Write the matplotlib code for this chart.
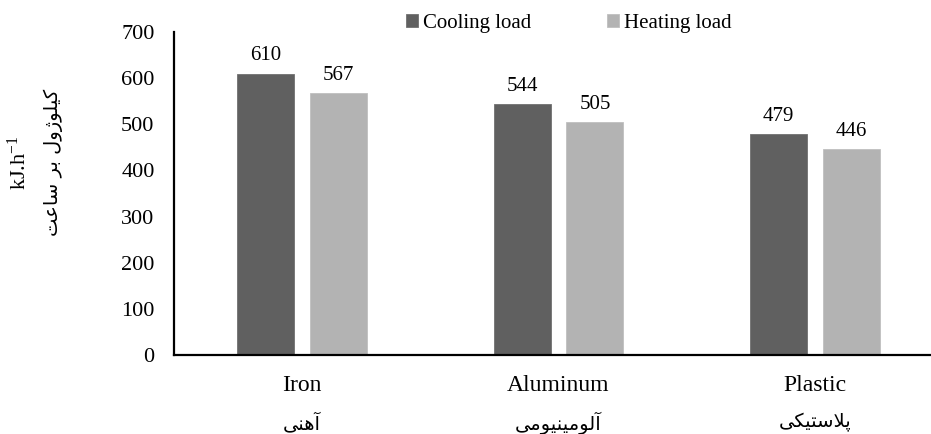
import matplotlib
matplotlib.use("Agg")
import matplotlib.pyplot as plt
import numpy as np

# data
materials_en = ["Iron", "Aluminum", "Plastic"]
materials_fa = ["آهنی", "آلومینیومی", "پلاستیکی"]
cooling = [610, 544, 479]
heating = [567, 505, 446]
yticks = [0, 100, 200, 300, 400, 500, 600, 700]
ylabel_en = "kJ.h$^{-1}$"
ylabel_fa = "کیلوژول بر ساعت"
series_names = ["Cooling load", "Heating load"]

# matplotlib has no Arabic shaping, so map letters to presentation forms
# (isolated, final, initial, medial); None = does not join to the next letter
FORMS = {
    "ا": ("\uFE8D", "\uFE8E", None, None),
    "آ": ("\uFE81", "\uFE82", None, None),
    "ب": ("\uFE8F", "\uFE90", "\uFE91", "\uFE92"),
    "پ": ("\uFB56", "\uFB57", "\uFB58", "\uFB59"),
    "ت": ("\uFE95", "\uFE96", "\uFE97", "\uFE98"),
    "س": ("\uFEB1", "\uFEB2", "\uFEB3", "\uFEB4"),
    "ع": ("\uFEC9", "\uFECA", "\uFECB", "\uFECC"),
    "ر": ("\uFEAD", "\uFEAE", None, None),
    "ژ": ("\uFB8A", "\uFB8B", None, None),
    "و": ("\uFEED", "\uFEEE", None, None),
    "ل": ("\uFEDD", "\uFEDE", "\uFEDF", "\uFEE0"),
    "م": ("\uFEE1", "\uFEE2", "\uFEE3", "\uFEE4"),
    "ن": ("\uFEE5", "\uFEE6", "\uFEE7", "\uFEE8"),
    "ه": ("\uFEE9", "\uFEEA", "\uFEEB", "\uFEEC"),
    "ی": ("\uFBFC", "\uFBFD", "\uFBFE", "\uFBFF"),
    "ک": ("\uFB8E", "\uFB8F", "\uFB90", "\uFB91"),
    "لا": ("\uFEFB", "\uFEFC", None, None),
}


def shape(text):
    # merge lam + alef into one unit
    units = []
    i = 0
    while i < len(text):
        if text[i] == "ل" and i + 1 < len(text) and text[i + 1] == "ا":
            units.append("لا")
            i += 2
        else:
            units.append(text[i])
            i += 1
    out = []
    for k, u in enumerate(units):
        if u not in FORMS:
            out.append(u)
            continue
        prev = units[k - 1] if k > 0 else None
        nxt = units[k + 1] if k + 1 < len(units) else None
        join_prev = prev in FORMS and FORMS[prev][2] is not None
        join_next = nxt in FORMS and FORMS[u][2] is not None
        iso, fin, ini, med = FORMS[u]
        if join_prev and join_next:
            out.append(med)
        elif join_prev:
            out.append(fin)
        elif join_next:
            out.append(ini)
        else:
            out.append(iso)
    return "".join(out)[::-1]


plt.rcParams["font.family"] = ["Liberation Serif", "DejaVu Sans"]
plt.rcParams["mathtext.default"] = "regular"

fig = plt.figure(figsize=(9.31, 4.34), dpi=100)
ax = fig.add_axes([174 / 931, 1 - 355 / 434, 769 / 931, 323 / 434])

x = np.arange(len(materials_en))
w = 0.222
off = 0.142
b1 = ax.bar(x - off, cooling, w, color="#606060", edgecolor="#707070", linewidth=0.6,
            label=series_names[0])
b2 = ax.bar(x + off, heating, w, color="#b3b3b3", edgecolor="#c0c0c0", linewidth=0.6,
            label=series_names[1])

for bars, vals in [(b1, cooling), (b2, heating)]:
    for r, v in zip(bars, vals):
        ax.annotate(str(v), (r.get_x() + r.get_width() / 2, v), xytext=(0, 6),
                    textcoords="offset points", ha="center", va="bottom", fontsize=15)

ax.set_xlim(-0.5, 2.5)
ax.set_ylim(0, 700)
ax.set_yticks(yticks)
ax.tick_params(axis="y", length=0, pad=14, labelsize=16)
ax.set_xticks([])
for s in ["top", "right"]:
    ax.spines[s].set_visible(False)
for s in ["left", "bottom"]:
    ax.spines[s].set_linewidth(1.6)

tr = ax.get_xaxis_transform()
for xi, en, fa in zip(x, materials_en, materials_fa):
    ax.text(xi, -0.093, en, transform=tr, ha="center", va="center", fontsize=17)
    ax.text(xi, -0.21, shape(fa), transform=tr, ha="center", va="center", fontsize=14,
            family=["DejaVu Sans"])

fig.text(19 / 931, 1 - 163 / 434, ylabel_en, rotation=90, ha="center", va="center",
         fontsize=16)
fig.text(53 / 931, 1 - 162 / 434, shape(ylabel_fa), rotation=90, ha="center", va="center",
         fontsize=14, family=["DejaVu Sans"])

fig.legend(handles=[b1, b2], loc="center", bbox_to_anchor=(0.611, 0.947), ncol=2,
           frameon=False, fontsize=15, handlelength=0.6, handleheight=0.6,
           handletextpad=0.25, columnspacing=3.6, borderpad=0)

fig.savefig("out.png", dpi=100)
